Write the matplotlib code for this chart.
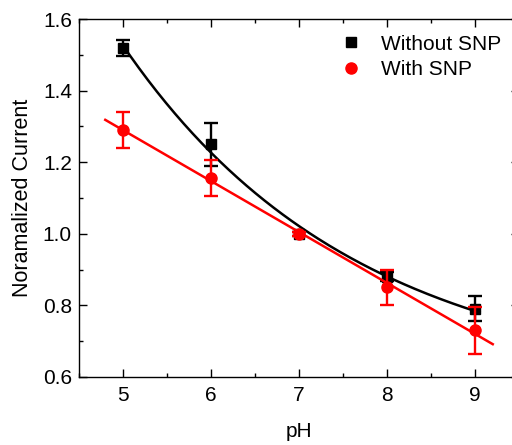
import matplotlib
matplotlib.use("Agg")
import matplotlib.pyplot as plt
from matplotlib.ticker import MultipleLocator, FormatStrFormatter
import numpy as np

plt.rcParams["font.family"] = ["Liberation Sans", "DejaVu Sans"]

ph = [5, 6, 7, 8, 9]
without_snp = [1.52, 1.25, 1.0, 0.88, 0.79]
without_err = [0.022, 0.06, 0.005, 0.012, 0.035]
with_snp = [1.29, 1.155, 1.0, 0.85, 0.73]
with_err = [0.05, 0.05, 0.005, 0.05, 0.065]

x = np.array(ph, dtype=float)
y_bk = np.array(without_snp)
y_rd = np.array(with_snp)

# exponential decay fit for the black series: y = c + b*exp(-x/t)
best = None
for t in np.linspace(0.5, 20, 400):
    A = np.vstack([np.ones_like(x), np.exp(-x / t)]).T
    coef, *_ = np.linalg.lstsq(A, y_bk, rcond=None)
    err = np.sum((A @ coef - y_bk) ** 2)
    if best is None or err < best[0]:
        best = (err, t, coef)
_, t_fit, (c_fit, b_fit) = best
xf_bk = np.linspace(5.0, 9.05, 200)
yf_bk = c_fit + b_fit * np.exp(-xf_bk / t_fit)

# linear fit for the red series
m, q = np.polyfit(x, y_rd, 1)
xf_rd = np.linspace(4.8, 9.2, 50)
yf_rd = m * xf_rd + q

fig = plt.figure(figsize=(5.12, 4.45), dpi=100)
ax = fig.add_axes([0.154, 0.153, 0.86, 0.804])

ax.plot(xf_bk, yf_bk, color="black", lw=1.8, zorder=2)
ax.errorbar(x, y_bk, yerr=without_err, fmt="s", color="black", ms=7,
            capsize=5, capthick=1.7, elinewidth=1.7, label="Without SNP", zorder=3)
ax.plot(xf_rd, yf_rd, color="red", lw=1.8, zorder=4)
ax.errorbar(x, y_rd, yerr=with_err, fmt="o", color="red", ms=8,
            capsize=5, capthick=1.7, elinewidth=1.7, label="With SNP", zorder=5)

ax.set_xlim(4.5, 9.5)
ax.set_ylim(0.6, 1.6)
ax.xaxis.set_major_locator(MultipleLocator(1))
ax.xaxis.set_minor_locator(MultipleLocator(0.5))
ax.yaxis.set_major_locator(MultipleLocator(0.2))
ax.yaxis.set_minor_locator(MultipleLocator(0.1))
ax.tick_params(which="both", direction="in", top=True, right=True, labelsize=15, width=1)
ax.tick_params(which="major", length=6)
ax.tick_params(which="minor", length=3)
ax.tick_params(axis="x", pad=6.5)
ax.tick_params(axis="y", pad=5)
ax.yaxis.set_major_formatter(FormatStrFormatter("%.1f"))
for s in ax.spines.values():
    s.set_linewidth(1)

ax.set_xlabel("pH", fontsize=15, labelpad=12)
ax.set_ylabel("Noramalized Current", fontsize=15.5, labelpad=7)

h, l = ax.get_legend_handles_labels()
h = [hh[0] for hh in h]
ax.legend(h, l, loc="upper left", bbox_to_anchor=(0.575, 0.98), frameon=False,
          borderaxespad=0, fontsize=15, handlelength=1.0, handletextpad=0.94,
          labelspacing=0.3)

fig.savefig("out.png", dpi=100)
